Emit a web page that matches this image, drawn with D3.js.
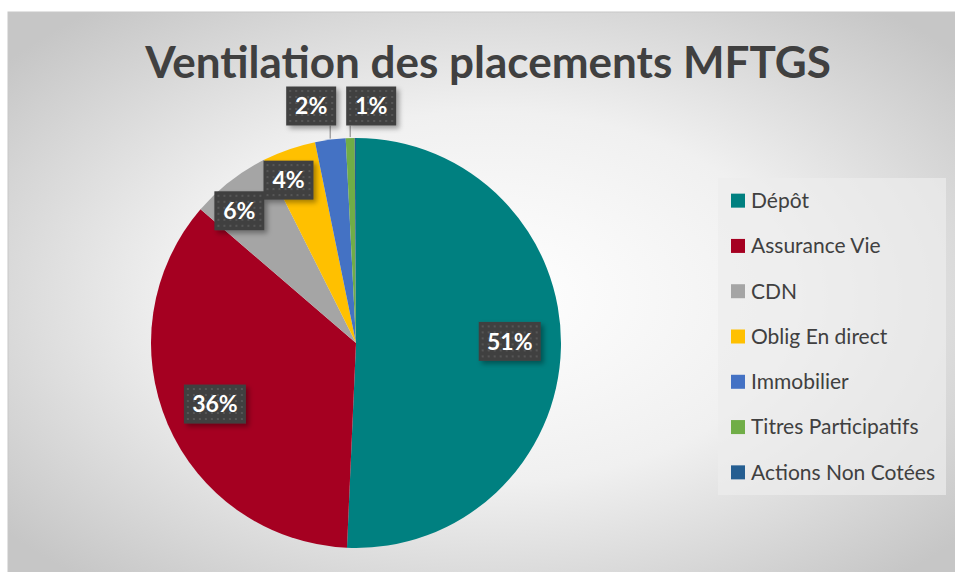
<!DOCTYPE html>
<html>
<head>
<meta charset="utf-8">
<script src="https://cdn.jsdelivr.net/npm/d3@7"></script>
<style>
  body { margin: 0; background: #fff; }
  svg { display: block; font-family: Lato, "Open Sans", sans-serif; }
</style>
</head>
<body>
<svg id="canvas" width="955" height="572"></svg>
<script>
let categories = ['Dépôt', 'Assurance Vie', 'CDN', 'Oblig En direct', 'Immobilier', 'Titres Participatifs', 'Actions Non Cotées']
let shares = [50.7, 35.6, 6.3, 4.2, 2.4, 0.7, 0.1]
let colors = ['#008080', '#a50021', '#a5a5a5', '#ffc000', '#4472c4', '#70ad47', '#255e91']
let title = 'Ventilation des placements MFTGS'

let canvas = d3.select('#canvas')
let width = 955, height = 572

let defs = canvas.append('defs')
let bg = defs.append('radialGradient').attr('id', 'bg')
  .attr('cx', '0.5').attr('cy', '0.5').attr('r', '0.65')
bg.append('stop').attr('offset', '0').attr('stop-color', '#ffffff')
bg.append('stop').attr('offset', '0.5').attr('stop-color', '#f0f0f0')
bg.append('stop').attr('offset', '1').attr('stop-color', '#c6c6c6')

let dots = defs.append('pattern').attr('id', 'dots')
  .attr('patternUnits', 'userSpaceOnUse').attr('width', 6).attr('height', 6)
dots.append('rect').attr('width', 6).attr('height', 6).attr('fill', '#404040')
dots.append('rect').attr('x', 2).attr('y', 2).attr('width', 2).attr('height', 2).attr('fill', '#575757')

let shadow = defs.append('filter').attr('id', 'shadow')
  .attr('x', '-20%').attr('y', '-20%').attr('width', '150%').attr('height', '160%')
shadow.append('feDropShadow').attr('dx', 3).attr('dy', 3).attr('stdDeviation', 2.5)
  .attr('flood-color', '#000').attr('flood-opacity', 0.35)

// chart area
canvas.append('rect')
  .attr('x', 8).attr('y', 12).attr('width', 960).attr('height', 570)
  .attr('fill', 'url(#bg)').attr('stroke', '#c8c8c8')

canvas.append('text')
  .attr('x', 488).attr('y', 78)
  .attr('text-anchor', 'middle')
  .attr('font-size', 44).attr('font-weight', 'bold')
  .attr('fill', '#404040')
  .text(title)

// pie
let cx = 356, cy = 343, radius = 205
let data = categories.map((c, i) => ({ name: c, value: shares[i], color: colors[i] }))

let pie = d3.pie().value(d => d.value).sort(null)
let arcs = pie(data)
let arc = d3.arc().innerRadius(0).outerRadius(radius)

let g = canvas.append('g').attr('transform', `translate(${cx},${cy})`)
g.selectAll('path')
  .data(arcs)
  .enter()
  .append('path')
  .attr('d', arc)
  .attr('fill', d => d.data.color)

// labels
let fmt = d => Math.round(d.data.value) + '%'
let inside = arcs.filter(d => d.data.value >= 3)
let outside = arcs.filter(d => d.data.value >= 0.5 && d.data.value < 3)

let labelR = d => d.data.value > 20 ? radius * 0.75 : radius * 0.86
let labelPos = d => {
  let a = (d.startAngle + d.endAngle) / 2
  if (d.data.value < 10) a -= 0.06
  return [Math.sin(a) * labelR(d), -Math.cos(a) * labelR(d) + (d.data.value > 40 ? -5 : 0)]
}

let boxH = 39
let drawLabel = (sel) => {
  sel.each(function (d) {
    let node = d3.select(this)
    let t = fmt(d)
    let w = t.length > 2 ? 62 : 50
    node.append('rect')
      .attr('x', -w / 2).attr('y', -boxH / 2)
      .attr('width', w).attr('height', boxH)
      .attr('fill', 'url(#dots)')
      .attr('filter', 'url(#shadow)')
    node.append('text')
      .attr('text-anchor', 'middle').attr('dy', '0.36em')
      .attr('font-size', 23).attr('font-weight', 'bold')
      .attr('fill', '#fff')
      .text(t)
  })
}

g.selectAll('g.in')
  .data(inside)
  .enter()
  .append('g')
  .attr('transform', d => `translate(${labelPos(d)})`)
  .call(drawLabel)

// outside labels above the pie, spread so they do not overlap
let outR = radius + 40
let outPos = outside.map(d => {
  let a = (d.startAngle + d.endAngle) / 2
  return { d: d, a: a, x: Math.sin(a) * outR, y: -radius - 32 }
})
let gap = 60
let meanX = d3.mean(outPos, p => p.x) + 4
outPos.forEach((p, i) => { p.x = meanX + (i - (outPos.length - 1) / 2) * gap })

outPos.forEach(p => {
  let a = p.a
  let ax = Math.sin(a) * (radius + 1), ay = -Math.cos(a) * (radius + 1)
  let bx = Math.max(p.x - 25 + 4, Math.min(p.x + 25 - 4, ax))
  g.append('line')
    .attr('x1', ax).attr('y1', ay)
    .attr('x2', bx).attr('y2', p.y + boxH / 2)
    .attr('stroke', '#7f7f7f').attr('stroke-width', 1)
})
g.selectAll('g.out')
  .data(outPos.map(p => p.d))
  .enter()
  .append('g')
  .attr('transform', (d, i) => `translate(${outPos[i].x},${outPos[i].y})`)
  .call(drawLabel)

// legend
let legendY = d3.scaleBand().domain(categories).range([178, 495])
canvas.append('rect')
  .attr('x', 718).attr('y', 178).attr('width', 228).attr('height', 317)
  .attr('fill', '#ececec').attr('opacity', 0.7)

let legend = canvas.selectAll('g.legend')
  .data(data)
  .enter()
  .append('g')
  .attr('transform', d => `translate(731,${legendY(d.name) + legendY.bandwidth() / 2})`)
legend.append('rect')
  .attr('x', 0).attr('y', -7).attr('width', 14).attr('height', 14)
  .attr('fill', d => d.color)
legend.append('text')
  .attr('x', 20).attr('dy', '0.35em')
  .attr('font-size', 21).attr('fill', '#404040')
  .text(d => d.name)
</script>
</body>
</html>
